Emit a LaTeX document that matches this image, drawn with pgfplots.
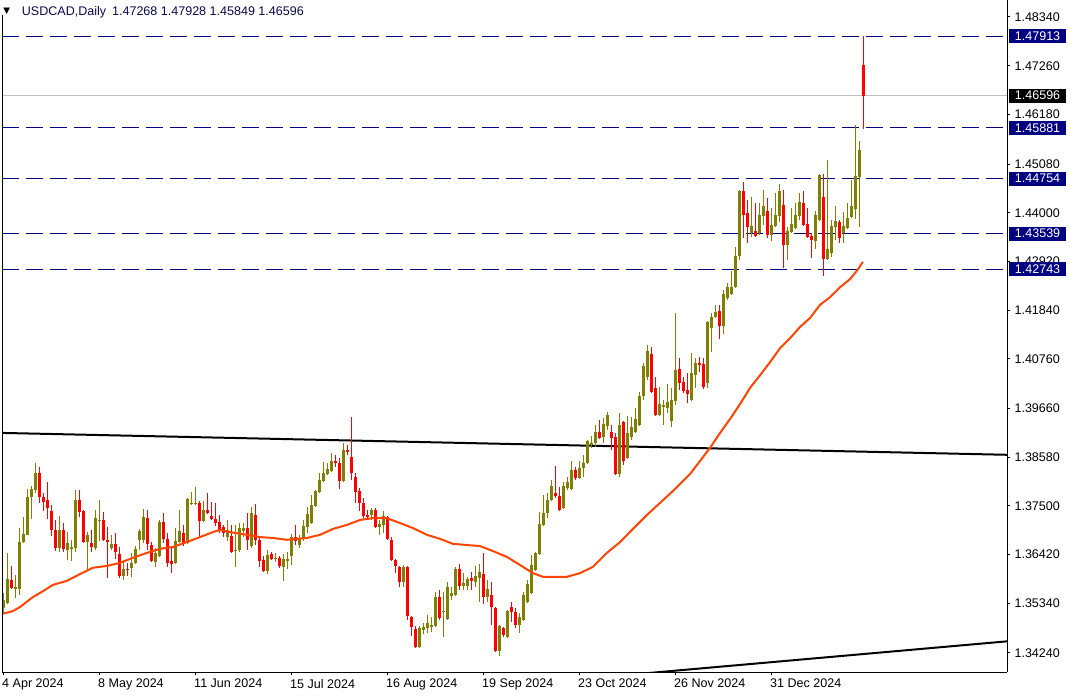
\documentclass[border=0pt]{standalone}
\usepackage{fontspec}
\setmainfont{Liberation Sans}
\usepackage{pgfplots}
\usepackage{pgfplotstable}
\pgfplotsset{compat=1.18}

\definecolor{bull}{RGB}{128,128,0}
\definecolor{bear}{RGB}{255,0,0}
\definecolor{maline}{RGB}{255,69,0}
\definecolor{lvl}{RGB}{0,0,128}
\definecolor{cur}{RGB}{192,192,192}
\definecolor{head}{RGB}{10,10,70}
\newcommand\chartfont{\fontsize{9.4}{11}\selectfont}

% daily candles: bar index, open, high, low, close
\pgfplotstableread{
i o h l c
0 1.3524 1.3557 1.3513 1.3542
1 1.3535 1.3646 1.3533 1.3588
3 1.3566 1.3597 1.3546 1.3570
4 1.3566 1.3701 1.3553 1.3670
5 1.3670 1.3726 1.3668 1.3688
6 1.3686 1.3788 1.3685 1.3770
7 1.3770 1.3794 1.3721 1.3788
8 1.3785 1.3845 1.3779 1.3823
14 1.3657 1.3728 1.3648 1.3697
16 1.3652 1.3692 1.3630 1.3668
17 1.3655 1.3675 1.3628 1.3659
18 1.3657 1.3785 1.3648 1.3763
21 1.3670 1.3692 1.3608 1.3686
23 1.3657 1.3741 1.3652 1.3723
24 1.3717 1.3763 1.3672 1.3719
27 1.3657 1.3686 1.3652 1.3666
30 1.3595 1.3630 1.3586 1.3610
32 1.3612 1.3646 1.3592 1.3624
33 1.3624 1.3661 1.3621 1.3655
34 1.3675 1.3699 1.3652 1.3694
35 1.3675 1.3743 1.3668 1.3726
38 1.3626 1.3657 1.3615 1.3646
39 1.3639 1.3719 1.3637 1.3714
43 1.3624 1.3701 1.3621 1.3672
44 1.3670 1.3741 1.3668 1.3694
46 1.3668 1.3767 1.3666 1.3765
47 1.3754 1.3781 1.3752 1.3757
48 1.3755 1.3792 1.3752 1.3757
50 1.3717 1.3761 1.3714 1.3741
56 1.3681 1.3719 1.3672 1.3697
58 1.3650 1.3708 1.3615 1.3652
59 1.3652 1.3712 1.3648 1.3701
60 1.3695 1.3712 1.3681 1.3701
62 1.3661 1.3748 1.3657 1.3734
66 1.3606 1.3652 1.3599 1.3641
68 1.3632 1.3646 1.3626 1.3635
70 1.3615 1.3644 1.3584 1.3632
71 1.3628 1.3648 1.3610 1.3632
72 1.3639 1.3688 1.3619 1.3681
74 1.3664 1.3686 1.3657 1.3679
75 1.3677 1.3719 1.3672 1.3706
76 1.3703 1.3748 1.3690 1.3732
77 1.3712 1.3774 1.3710 1.3752
78 1.3750 1.3785 1.3748 1.3783
79 1.3781 1.3823 1.3779 1.3808
80 1.3805 1.3847 1.3803 1.3823
81 1.3821 1.3845 1.3819 1.3832
82 1.3828 1.3867 1.3825 1.3850
85 1.3805 1.3890 1.3803 1.3874
92 1.3730 1.3746 1.3719 1.3741
94 1.3703 1.3719 1.3686 1.3710
95 1.3708 1.3739 1.3690 1.3728
100 1.3581 1.3619 1.3570 1.3615
104 1.3437 1.3484 1.3435 1.3479
105 1.3475 1.3491 1.3466 1.3482
106 1.3479 1.3508 1.3468 1.3491
107 1.3482 1.3504 1.3471 1.3486
108 1.3484 1.3559 1.3482 1.3548
110 1.3515 1.3559 1.3460 1.3517
111 1.3499 1.3581 1.3497 1.3570
112 1.3550 1.3570 1.3542 1.3557
113 1.3553 1.3615 1.3550 1.3610
115 1.3573 1.3601 1.3564 1.3579
116 1.3573 1.3593 1.3564 1.3588
118 1.3581 1.3617 1.3570 1.3595
119 1.3590 1.3621 1.3537 1.3604
121 1.3548 1.3586 1.3537 1.3566
124 1.3428 1.3486 1.3417 1.3484
126 1.3460 1.3519 1.3457 1.3517
129 1.3486 1.3513 1.3468 1.3504
130 1.3497 1.3559 1.3495 1.3553
131 1.3537 1.3586 1.3535 1.3577
132 1.3557 1.3641 1.3555 1.3619
133 1.3608 1.3648 1.3606 1.3646
134 1.3644 1.3737 1.3641 1.3710
135 1.3708 1.3774 1.3706 1.3734
136 1.3734 1.3779 1.3723 1.3763
137 1.3763 1.3808 1.3761 1.3794
140 1.3746 1.3803 1.3743 1.3794
141 1.3790 1.3814 1.3785 1.3803
142 1.3788 1.3850 1.3785 1.3830
144 1.3812 1.3850 1.3810 1.3834
145 1.3834 1.3863 1.3814 1.3845
146 1.3845 1.3896 1.3843 1.3894
147 1.3885 1.3905 1.3879 1.3890
148 1.3890 1.3930 1.3881 1.3914
150 1.3903 1.3945 1.3890 1.3932
151 1.3927 1.3958 1.3918 1.3952
154 1.3821 1.3956 1.3814 1.3930
156 1.3856 1.3949 1.3854 1.3912
157 1.3903 1.3947 1.3896 1.3925
158 1.3914 1.3967 1.3912 1.3943
159 1.3930 1.4003 1.3927 1.3994
160 1.3994 1.4067 1.3985 1.4060
161 1.4036 1.4107 1.4029 1.4094
164 1.3952 1.4014 1.3949 1.3976
165 1.3969 1.3985 1.3930 1.3974
166 1.3967 1.4020 1.3956 1.3981
167 1.3938 1.4012 1.3925 1.3985
168 1.3983 1.4178 1.3974 1.4051
172 1.3985 1.4089 1.3983 1.4045
173 1.4040 1.4078 1.4012 1.4067
176 1.4023 1.4160 1.4012 1.4158
177 1.4145 1.4178 1.4091 1.4169
178 1.4169 1.4196 1.4167 1.4180
180 1.4149 1.4229 1.4131 1.4220
181 1.4211 1.4244 1.4207 1.4235
182 1.4220 1.4271 1.4218 1.4235
183 1.4235 1.4324 1.4233 1.4304
184 1.4304 1.4450 1.4295 1.4448
187 1.4355 1.4435 1.4346 1.4371
189 1.4355 1.4422 1.4351 1.4395
190 1.4393 1.4450 1.4373 1.4415
192 1.4351 1.4411 1.4337 1.4373
193 1.4371 1.4444 1.4368 1.4395
194 1.4393 1.4464 1.4380 1.4448
196 1.4329 1.4368 1.4295 1.4360
197 1.4357 1.4411 1.4355 1.4375
198 1.4366 1.4422 1.4364 1.4395
199 1.4393 1.4444 1.4384 1.4424
203 1.4337 1.4404 1.4320 1.4395
204 1.4384 1.4486 1.4382 1.4484
206 1.4298 1.4517 1.4295 1.4320
207 1.4311 1.4384 1.4302 1.4371
208 1.4368 1.4415 1.4340 1.4382
210 1.4355 1.4402 1.4333 1.4371
211 1.4366 1.4422 1.4364 1.4388
212 1.4391 1.4473 1.4388 1.4415
213 1.4408 1.4595 1.4386 1.4482
214 1.4479 1.4559 1.4368 1.4539
}\upbars

\pgfplotstableread{
i o h l c
2 1.3586 1.3617 1.3566 1.3568
9 1.3823 1.3836 1.3757 1.3770
10 1.3770 1.3779 1.3739 1.3759
11 1.3763 1.3803 1.3721 1.3746
12 1.3739 1.3752 1.3683 1.3697
13 1.3697 1.3719 1.3650 1.3657
15 1.3697 1.3712 1.3648 1.3655
19 1.3763 1.3785 1.3726 1.3737
20 1.3739 1.3741 1.3668 1.3670
22 1.3668 1.3697 1.3648 1.3659
25 1.3719 1.3737 1.3672 1.3675
26 1.3675 1.3703 1.3590 1.3670
28 1.3666 1.3690 1.3632 1.3648
29 1.3644 1.3659 1.3590 1.3595
31 1.3610 1.3624 1.3595 1.3608
36 1.3723 1.3741 1.3652 1.3666
37 1.3663 1.3670 1.3626 1.3628
40 1.3714 1.3734 1.3668 1.3677
41 1.3677 1.3690 1.3615 1.3624
42 1.3628 1.3657 1.3601 1.3621
45 1.3690 1.3708 1.3661 1.3666
49 1.3757 1.3761 1.3681 1.3717
51 1.3741 1.3779 1.3732 1.3734
52 1.3728 1.3759 1.3719 1.3721
53 1.3721 1.3757 1.3706 1.3712
54 1.3714 1.3730 1.3690 1.3697
55 1.3703 1.3708 1.3681 1.3690
57 1.3683 1.3708 1.3646 1.3648
61 1.3701 1.3734 1.3652 1.3675
63 1.3730 1.3754 1.3664 1.3675
64 1.3675 1.3681 1.3615 1.3628
65 1.3630 1.3639 1.3604 1.3606
67 1.3644 1.3648 1.3630 1.3632
69 1.3635 1.3639 1.3612 1.3617
73 1.3681 1.3708 1.3664 1.3672
83 1.3850 1.3863 1.3836 1.3845
84 1.3845 1.3856 1.3788 1.3805
86 1.3874 1.3885 1.3863 1.3870
87 1.3859 1.3947 1.3808 1.3823
88 1.3814 1.3823 1.3757 1.3781
89 1.3783 1.3790 1.3739 1.3757
90 1.3757 1.3768 1.3723 1.3728
91 1.3730 1.3741 1.3719 1.3726
93 1.3741 1.3746 1.3701 1.3703
96 1.3726 1.3728 1.3675 1.3677
97 1.3675 1.3681 1.3628 1.3630
98 1.3630 1.3632 1.3601 1.3617
99 1.3615 1.3617 1.3570 1.3581
101 1.3615 1.3616 1.3497 1.3506
102 1.3504 1.3506 1.3462 1.3482
103 1.3477 1.3484 1.3435 1.3437
109 1.3548 1.3564 1.3497 1.3502
114 1.3610 1.3621 1.3564 1.3573
117 1.3590 1.3604 1.3564 1.3584
120 1.3599 1.3646 1.3533 1.3548
122 1.3553 1.3581 1.3486 1.3526
123 1.3524 1.3526 1.3426 1.3428
125 1.3479 1.3481 1.3460 1.3464
127 1.3526 1.3537 1.3493 1.3515
128 1.3515 1.3524 1.3479 1.3486
138 1.3779 1.3839 1.3768 1.3772
139 1.3772 1.3792 1.3739 1.3741
143 1.3830 1.3836 1.3808 1.3812
149 1.3914 1.3941 1.3898 1.3901
152 1.3914 1.3930 1.3874 1.3901
153 1.3903 1.3912 1.3819 1.3821
155 1.3936 1.3938 1.3841 1.3850
162 1.4087 1.4102 1.4000 1.4003
163 1.4012 1.4036 1.3949 1.3952
169 1.4054 1.4078 1.4007 1.4023
170 1.4025 1.4036 1.4000 1.4005
171 1.4007 1.4045 1.3978 1.3998
174 1.4067 1.4080 1.4047 1.4062
175 1.4065 1.4078 1.4009 1.4014
179 1.4182 1.4196 1.4120 1.4149
185 1.4448 1.4468 1.4344 1.4395
186 1.4399 1.4428 1.4333 1.4368
188 1.4360 1.4422 1.4346 1.4349
191 1.4404 1.4433 1.4344 1.4351
195 1.4417 1.4450 1.4278 1.4329
200 1.4422 1.4448 1.4371 1.4373
201 1.4375 1.4411 1.4344 1.4346
202 1.4349 1.4355 1.4300 1.4340
205 1.4435 1.4486 1.4260 1.4298
209 1.4380 1.4384 1.4333 1.4344
215 1.47268 1.47928 1.45849 1.46596
}\downbars

% moving average
\pgfplotstableread{
x ma
-0.1 1.3511
2.4 1.3517
4.2 1.3526
7.4 1.3548
9.9 1.3561
12.4 1.3575
15.9 1.3584
19.2 1.3599
22.4 1.3613
25.9 1.3617
29.2 1.3624
32.4 1.3635
35.9 1.3646
39.2 1.3655
42.4 1.3659
45.9 1.3670
49.2 1.3681
52.4 1.3692
54.2 1.3697
56.7 1.3692
60.9 1.3686
64.2 1.3681
67.4 1.3679
70.9 1.3675
75.9 1.3679
79.2 1.3686
82.4 1.3699
85.9 1.3708
89.2 1.3719
92.4 1.3723
95.9 1.3723
99.2 1.3712
102.4 1.3701
105.9 1.3686
109.2 1.3677
112.4 1.3666
119.2 1.3661
122.4 1.3650
125.9 1.3637
129.2 1.3619
132.4 1.3601
134.9 1.3593
140.9 1.3593
144.2 1.3601
147.4 1.3615
150.9 1.3646
154.2 1.3670
157.4 1.3699
160.9 1.3730
164.2 1.3757
167.4 1.3783
171.7 1.3821
174.2 1.3850
176.7 1.3879
179.2 1.3912
181.7 1.3943
184.2 1.3976
186.7 1.4012
189.2 1.4040
191.7 1.4069
194.2 1.4100
196.7 1.4122
199.2 1.4147
201.7 1.4167
204.2 1.4196
206.7 1.4213
209.2 1.4235
211.7 1.4253
213.7 1.4275
214.9 1.4291
}\matab

\begin{document}
\begin{tikzpicture}
\begin{axis}[
    scale only axis,
    width=753.75pt, height=504.225pt,
    xmin=-0.25, xmax=251,
    ymin=1.33812, ymax=1.48717,
    axis x line*=bottom, axis y line*=right,
    axis line style={line width=0.75pt},
    tick align=outside,
    major tick length=2.25pt,
    every tick/.style={black, line width=0.75pt},
    xtick={0,24,48,72,96,120,144,168,192},
    xticklabels={4 Apr 2024, 8 May 2024, 11 Jun 2024, 15 Jul 2024, 16 Aug 2024,
                 19 Sep 2024, 23 Oct 2024, 26 Nov 2024, 31 Dec 2024},
    xticklabel style={anchor=north west, inner sep=0pt, xshift=-1pt, yshift=-2.6pt, font=\chartfont},
    ytick={1.48340,1.47260,1.46180,1.45080,1.44000,1.42920,1.41840,
           1.40760,1.39660,1.38580,1.37500,1.36420,1.35340,1.34240},
    yticklabels={1.48340,1.47260,1.46180,1.45080,1.44000,1.42920,1.41840,
                 1.40760,1.39660,1.38580,1.37500,1.36420,1.35340,1.34240},
    yticklabel style={anchor=west, inner sep=0pt, xshift=3pt, font=\chartfont},
    candle/.style={draw=none, mark=none, forget plot,
      error bars/.cd, y dir=plus, y explicit, error mark=none},
]
% horizontal levels
\addplot [lvl, line width=0.75pt, dash pattern=on 12.75pt off 5.25pt, forget plot] coordinates {(-0.25,1.47913) (251,1.47913)};
\addplot [lvl, line width=0.75pt, dash pattern=on 12.75pt off 5.25pt, forget plot] coordinates {(-0.25,1.45881) (251,1.45881)};
\addplot [lvl, line width=0.75pt, dash pattern=on 12.75pt off 5.25pt, forget plot] coordinates {(-0.25,1.44754) (251,1.44754)};
\addplot [lvl, line width=0.75pt, dash pattern=on 12.75pt off 5.25pt, forget plot] coordinates {(-0.25,1.43539) (251,1.43539)};
\addplot [lvl, line width=0.75pt, dash pattern=on 12.75pt off 5.25pt, forget plot] coordinates {(-0.25,1.42743) (251,1.42743)};
\addplot [cur, line width=0.75pt, forget plot] coordinates {(-0.25,1.46596) (251,1.46596)};
% trend lines
\addplot [black, line width=1.5pt, forget plot] coordinates {(-0.825,1.39120) (251,1.38634)};
\addplot [black, line width=1.5pt, forget plot] coordinates {(150,1.33707) (251,1.34499)};
% wicks
\addplot [candle, error bar style={draw=bull, line width=0.75pt}]
  table [x=i, y=l, y error plus expr=\thisrow{h}-\thisrow{l}] {\upbars};
\addplot [candle, error bar style={draw=bear, line width=0.75pt}]
  table [x=i, y=l, y error plus expr=\thisrow{h}-\thisrow{l}] {\downbars};
% bodies
\addplot [candle, error bar style={draw=bull, line width=2.25pt}]
  table [x=i, y=o, y error plus expr=\thisrow{c}-\thisrow{o}] {\upbars};
\addplot [candle, error bar style={draw=bear, line width=2.25pt}]
  table [x=i, y=c, y error plus expr=\thisrow{o}-\thisrow{c}] {\downbars};
% moving average
\addplot [maline, line width=1.5pt, mark=none, forget plot] table [x=x, y=ma] {\matab};

\coordinate (SW) at (rel axis cs:0,0);
\coordinate (NW) at (rel axis cs:0,1);
\coordinate (A) at (axis cs:251,1.47913);
\coordinate (B) at (axis cs:251,1.46596);
\coordinate (C) at (axis cs:251,1.45881);
\coordinate (D) at (axis cs:251,1.44754);
\coordinate (E) at (axis cs:251,1.43539);
\coordinate (F) at (axis cs:251,1.42743);
\end{axis}

\draw [line width=0.75pt] (SW) -- ([yshift=-11.25pt]NW);
\node [font=\fontsize{8.5}{8.5}\selectfont, inner sep=0pt] at ([shift={(3.4pt,-8.6pt)}]NW) {▼};
\node [anchor=base west, inner sep=0pt, text=head, font=\chartfont] at ([shift={(14.5pt,-12pt)}]NW)
  {USDCAD,Daily\hspace{4.5pt}1.47268 1.47928 1.45849 1.46596};

\tikzset{lbl/.style={anchor=west, text=white, inner xsep=4.2pt, inner ysep=0pt, minimum height=10.5pt, font=\chartfont}}
\node [lbl, fill=lvl] at ([xshift=1.3pt]A) {1.47913};
\node [lbl, fill=black] at ([xshift=1.3pt]B) {1.46596};
\node [lbl, fill=lvl] at ([xshift=1.3pt]C) {1.45881};
\node [lbl, fill=lvl] at ([xshift=1.3pt]D) {1.44754};
\node [lbl, fill=lvl] at ([xshift=1.3pt]E) {1.43539};
\node [lbl, fill=lvl] at ([xshift=1.3pt]F) {1.42743};

\pgfresetboundingbox
\path [use as bounding box] ([shift={(-1.725pt,-17.775pt)}]SW) rectangle ([shift={(801.525pt,0pt)}]NW);
\end{tikzpicture}
\end{document}
